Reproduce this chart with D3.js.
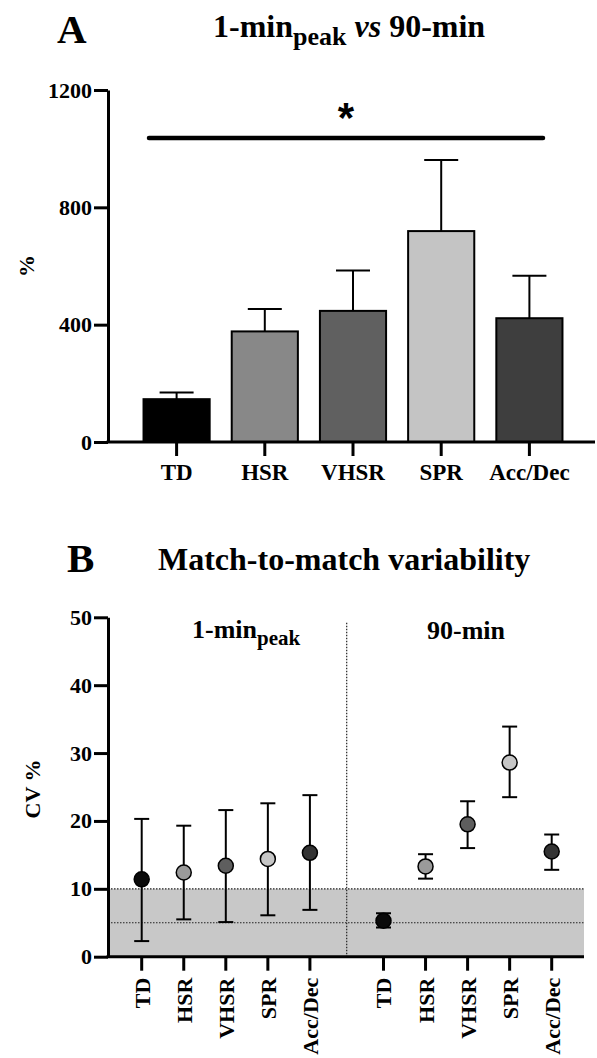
<!DOCTYPE html>
<html lang="en">
<head>
  <meta charset="UTF-8">
  <title>1-min peak vs 90-min</title>
  <script src="https://d3js.org/d3.v7.min.js"></script>
  <style>
    body { margin: 0; background: #fff; }
    text { font-family: "Liberation Serif", "Times New Roman", serif; font-weight: bold; fill: #000; }
  </style>
</head>
<body>
  <svg id="chart" width="597" height="1058"></svg>
  <script>
  // panel A: ratio 1-min peak vs 90-min (%)
  var cats = ["TD", "HSR", "VHSR", "SPR", "Acc/Dec"];
  var ratioMean = [146, 377, 447, 719, 422];
  var ratioUpper = [169, 453, 585, 961, 567];
  var barColors = ["#000000", "#888888", "#606060", "#c4c4c4", "#3e3e3e"];
  var ticksA = [0, 400, 800, 1200];

  // panel B: CV % (1-min peak and 90-min)
  var cvPeak = [11.4, 12.4, 13.4, 14.4, 15.3];
  var cvPeakLo = [2.3, 5.5, 5.1, 6.1, 6.9];
  var cvPeakHi = [20.3, 19.3, 21.6, 22.6, 23.8];
  var cv90 = [5.3, 13.3, 19.5, 28.6, 15.5];
  var cv90Lo = [4.3, 11.5, 16.0, 23.5, 12.8];
  var cv90Hi = [6.4, 15.1, 22.9, 33.9, 18.0];
  var dotColors = ["#0a0a0a", "#9a9a9a", "#5e5e5e", "#c6c6c6", "#333333"];
  var ticksB = [0, 10, 20, 30, 40, 50];
  var refBand = [0, 10];
  var refLines = [5, 10];

  var svg = d3.select("#chart");

  // ---------- panel A ----------
  svg.append("text").attr("x", 57).attr("y", 43).attr("font-size", 41).text("A");
  var tA = svg.append("text").attr("x", 213).attr("y", 37).attr("font-size", 32);
  tA.append("tspan").text("1-min");
  tA.append("tspan").attr("font-size", 26).attr("dy", 8).text("peak");
  tA.append("tspan").attr("dy", -8).attr("font-style", "italic").text(" vs");
  tA.append("tspan").text(" 90-min");

  var yA = d3.scaleLinear().domain([0, 1200]).range([442, 90]);
  var xA = d3.scaleBand().domain(cats).range([132.5, 573.5]).paddingInner(0.25).paddingOuter(0.125);

  var gA = svg.append("g");

  // error bars (upper only) behind bars
  gA.selectAll("line.err").data(cats).enter().append("line")
    .attr("class", "err")
    .attr("x1", d => xA(d) + xA.bandwidth() / 2)
    .attr("x2", d => xA(d) + xA.bandwidth() / 2)
    .attr("y1", (d, i) => yA(ratioMean[i]))
    .attr("y2", (d, i) => yA(ratioUpper[i]))
    .attr("stroke", "#000").attr("stroke-width", 2);
  gA.selectAll("line.cap").data(cats).enter().append("line")
    .attr("class", "cap")
    .attr("x1", d => xA(d) + xA.bandwidth() / 2 - 17)
    .attr("x2", d => xA(d) + xA.bandwidth() / 2 + 17)
    .attr("y1", (d, i) => yA(ratioUpper[i]))
    .attr("y2", (d, i) => yA(ratioUpper[i]))
    .attr("stroke", "#000").attr("stroke-width", 2);

  gA.selectAll("rect").data(cats).enter().append("rect")
    .attr("x", d => xA(d))
    .attr("width", xA.bandwidth())
    .attr("y", (d, i) => yA(ratioMean[i]))
    .attr("height", (d, i) => yA(0) - yA(ratioMean[i]))
    .attr("fill", (d, i) => barColors[i])
    .attr("stroke", "#000").attr("stroke-width", 2);

  // y axis
  var axA = svg.append("g").attr("transform", "translate(108,0)")
    .call(d3.axisLeft(yA).tickValues(ticksA).tickFormat(d3.format("d"))
      .tickSize(14).tickSizeOuter(0).tickPadding(2));
  axA.select(".domain").attr("stroke-width", 3);
  axA.selectAll(".tick line").attr("stroke-width", 3);
  axA.selectAll(".tick text").style("font-size", "22px");

  // x axis
  svg.append("line").attr("x1", 106.5).attr("x2", 595).attr("y1", yA(0)).attr("y2", yA(0))
    .attr("stroke", "#000").attr("stroke-width", 3);
  var axXA = svg.append("g").attr("transform", "translate(0," + yA(0) + ")")
    .call(d3.axisBottom(xA).tickSize(14).tickSizeOuter(0).tickPadding(8));
  axXA.select(".domain").remove();
  axXA.selectAll(".tick line").attr("stroke-width", 3);
  axXA.selectAll(".tick text").style("font-size", "23px");

  svg.append("text").attr("transform", "translate(34,266) rotate(-90)")
    .attr("text-anchor", "middle").attr("font-size", 22).text("%");

  // significance line
  svg.append("line").attr("x1", 149).attr("x2", 543).attr("y1", 138).attr("y2", 138)
    .attr("stroke", "#000").attr("stroke-width", 4.5).attr("stroke-linecap", "round");
  svg.append("text").attr("x", 346).attr("y", 132).attr("text-anchor", "middle")
    .style("font-family", "Liberation Sans").attr("font-size", 42).text("*");

  // ---------- panel B ----------
  svg.append("text").attr("x", 67).attr("y", 572).attr("font-size", 41).text("B");
  svg.append("text").attr("x", 158).attr("y", 570).attr("font-size", 32).text("Match-to-match variability");

  var yB = d3.scaleLinear().domain([0, 50]).range([956.7, 617.3]);
  // positions: index i for 1-min peak, i + 5.75 for 90-min
  var xB = d3.scaleLinear().domain([0, 9.75]).range([141.7, 551.7]);
  var pos = cats.map((c, i) => i).concat(cats.map((c, i) => i + 5.75));
  var pts = pos.map((p, k) => {
    var i = k % 5;
    var peak = k < 5;
    return {
      p: p, cat: cats[i], color: dotColors[i],
      v: peak ? cvPeak[i] : cv90[i],
      lo: peak ? cvPeakLo[i] : cv90Lo[i],
      hi: peak ? cvPeakHi[i] : cv90Hi[i]
    };
  });

  var gB = svg.append("g");
  gB.append("rect").attr("x", 108).attr("width", 584 - 108)
    .attr("y", yB(refBand[1])).attr("height", yB(refBand[0]) - yB(refBand[1]))
    .attr("fill", "#c8c8c8");
  gB.selectAll("line.ref").data(refLines).enter().append("line")
    .attr("class", "ref")
    .attr("x1", 108).attr("x2", 584)
    .attr("y1", d => yB(d)).attr("y2", d => yB(d))
    .attr("stroke", "#222").attr("stroke-width", 1.2).attr("stroke-dasharray", "1.5,1.5");
  gB.append("line")
    .attr("x1", xB(4.875)).attr("x2", xB(4.875))
    .attr("y1", yB(49.2)).attr("y2", yB(0))
    .attr("stroke", "#222").attr("stroke-width", 1.2).attr("stroke-dasharray", "1.5,1.5");

  // error bars
  gB.selectAll("line.eb").data(pts).enter().append("line")
    .attr("class", "eb")
    .attr("x1", d => xB(d.p)).attr("x2", d => xB(d.p))
    .attr("y1", d => yB(d.lo)).attr("y2", d => yB(d.hi))
    .attr("stroke", "#000").attr("stroke-width", 2);
  ["lo", "hi"].forEach(k => {
    gB.selectAll("line.cap" + k).data(pts).enter().append("line")
      .attr("class", "cap" + k)
      .attr("x1", d => xB(d.p) - 7.5).attr("x2", d => xB(d.p) + 7.5)
      .attr("y1", d => yB(d[k])).attr("y2", d => yB(d[k]))
      .attr("stroke", "#000").attr("stroke-width", 2);
  });
  gB.selectAll("circle").data(pts).enter().append("circle")
    .attr("cx", d => xB(d.p)).attr("cy", d => yB(d.v)).attr("r", 7.5)
    .attr("fill", d => d.color).attr("stroke", "#000").attr("stroke-width", 1.5);

  // y axis
  var axB = svg.append("g").attr("transform", "translate(108,0)")
    .call(d3.axisLeft(yB).tickValues(ticksB).tickSize(14).tickSizeOuter(0).tickPadding(2));
  axB.select(".domain").attr("stroke-width", 3);
  axB.selectAll(".tick line").attr("stroke-width", 3);
  axB.selectAll(".tick text").style("font-size", "22px");

  // x axis
  svg.append("line").attr("x1", 106.5).attr("x2", 584).attr("y1", yB(0)).attr("y2", yB(0))
    .attr("stroke", "#000").attr("stroke-width", 3);
  var axXB = svg.append("g").attr("transform", "translate(0," + yB(0) + ")");
  var tk = axXB.selectAll("g").data(pts).enter().append("g")
    .attr("transform", d => "translate(" + xB(d.p) + ",0)");
  tk.append("line").attr("y1", 0).attr("y2", 14).attr("stroke", "#000").attr("stroke-width", 3);
  tk.append("text").attr("transform", "translate(8,21) rotate(-90)")
    .attr("text-anchor", "end").attr("font-size", 22).text(d => d.cat);

  svg.append("text").attr("transform", "translate(40,789) rotate(-90)")
    .attr("text-anchor", "middle").attr("font-size", 22).text("CV %");

  var sA = svg.append("text").attr("x", 192).attr("y", 638).attr("font-size", 26);
  sA.append("tspan").text("1-min");
  sA.append("tspan").attr("font-size", 21).attr("dy", 7).text("peak");
  svg.append("text").attr("x", 427).attr("y", 639).attr("font-size", 26).text("90-min");
  </script>
</body>
</html>
